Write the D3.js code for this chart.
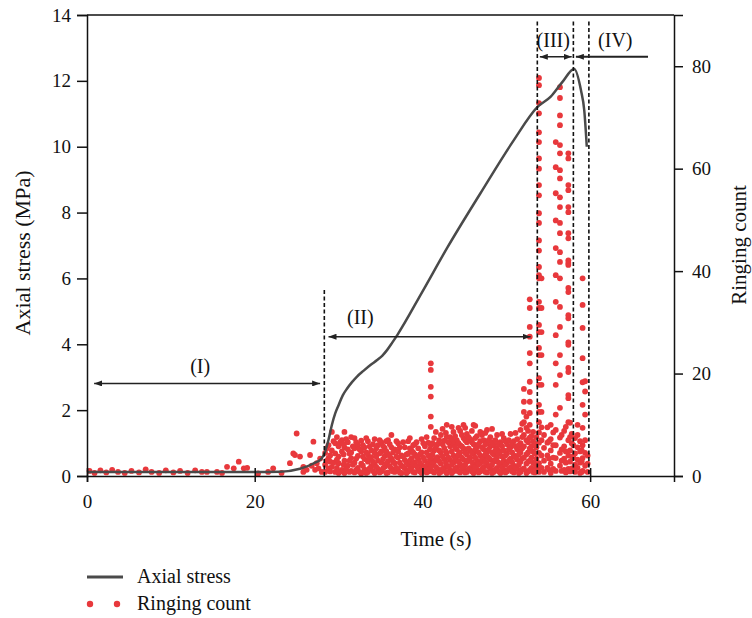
<!DOCTYPE html>
<html>
<head>
<meta charset="utf-8">
<script src="https://cdn.jsdelivr.net/npm/d3@7"></script>
<style>
  body { margin: 0; background: #fff; }
  text { font-family: "Liberation Serif", "Times New Roman", serif; fill: #111; }
</style>
</head>
<body>
<div id="chart"></div>
<script>
// axial stress curve (s, MPa)
let stressTime  = [0, 10, 20, 23, 25.4, 27.0, 28.0, 28.4, 28.8, 29.2, 29.6, 30.0, 30.5, 31.0, 31.6, 32.2, 33.0, 33.8, 34.6, 35.2, 35.8, 36.4, 37.0, 40.0, 43.0, 46.9, 50.9, 53.7, 55.3, 56.7, 58.1, 58.9, 59.3, 59.6];
let stressValue = [0.12, 0.12, 0.12, 0.13, 0.22, 0.38, 0.54, 0.75, 1.1, 1.55, 1.9, 2.15, 2.45, 2.65, 2.85, 3.02, 3.2, 3.37, 3.52, 3.65, 3.83, 4.05, 4.28, 5.6, 6.95, 8.58, 10.2, 11.2, 11.52, 11.97, 12.36, 11.72, 11.1, 10.0];

// ringing count, quiet stage: [time, count]
let quietPoints = [
  [0.3,1],[0.9,0.6],[1.6,1.1],[2.3,0.7],[3.0,1.2],[3.7,0.8],[4.5,0.6],[5.3,1],[6.2,0.7],[7.0,1.3],
  [7.7,0.8],[8.6,0.6],[9.4,1.1],[10.3,0.7],[11.1,1],[12.0,0.6],[12.9,1.1],[13.7,0.8],[14.3,0.8],[15.5,0.8],
  [16.1,0.6],[16.7,1.8],[17.5,1.5],[18.1,2.8],[18.7,1.5],[19.1,1.6],[20.4,0.5],[21.6,0.8],[22.2,1.5],[23.2,0.6],
  [24.2,2.5],[24.6,4.4],[24.8,4.1],[25.0,8.3],[25.4,3.8],[25.8,1.8],[25.8,0.8],[26.2,1.2],[26.6,4.1],[26.8,2],
  [27.0,6.7],[27.2,1.2],[27.4,2.5],[27.6,1.5],[27.8,3.4],[28.0,0.8]
];

// ringing count, stable growth stage: [time, counts]
let cloudCols = [
  [28.4,[0.8,2.2,4.5]], [28.8,[1.5,3.5,6.0]], [29.2,[1.8,5.0,8.6]], [29.6,[0.8,4.4,6.4]],
  [30.0,[2.5,3.8,5.8,0.6]], [30.4,[1.2,4.8,7.0]], [30.7,[0.6,3.0,8.6,5.6]], [31.1,[2.0,5.2,6.6]],
  [31.5,[1.0,3.5,4.6,7.6]], [31.9,[0.7,2.6,5.4,7.4]], [32.3,[1.6,3.9,6.0]], [32.7,[0.5,2.4,4.8,6.9]],
  [33.1,[1.3,3.3,5.6]], [33.5,[0.8,2.8,4.2,6.8]], [33.9,[1.9,3.7,5.0]], [34.3,[0.6,2.2,4.5,7.2]],
  [34.7,[1.4,3.0,6.0]], [35.1,[0.9,2.6,4.8,6.6]], [35.5,[1.8,3.9,5.5]], [35.9,[0.7,2.9,4.3,7.0]],
  [36.3,[1.5,3.4,5.6,8.0]], [36.7,[0.8,2.5,5.2]], [37.1,[1.2,3.6,4.8,6.4]], [37.5,[0.6,2.0,4.0]],
  [37.9,[1.5,3.1,5.6]], [38.3,[0.9,2.3,4.4,6.8]], [38.7,[1.7,3.5,5.0]], [39.1,[0.7,2.7,4.2,6.2]],
  [39.5,[1.3,3.3,5.4]], [39.9,[0.6,2.1,4.6,7.2]], [40.3,[1.6,3.0,5.8]], [40.7,[0.9,2.4,4.0,6.5]],
  [41.4,[0.7,2.8,5.0,7.4]], [41.8,[1.4,3.7,6.2]], [42.2,[0.8,2.4,4.6,8.0]], [42.6,[1.6,3.3,5.5,6.9]],
  [42.9,[0.6,2.0,4.4,7.6,10.0]], [43.3,[1.2,3.1,5.8,7.6]], [43.7,[0.9,2.6,4.0,6.4,8.6]], [44.1,[1.7,3.8,5.2,7.0]],
  [44.5,[0.7,2.3,4.6,6.0,8.8]], [44.9,[1.4,3.2,5.4,7.4,10.0]], [45.3,[0.8,2.8,4.2,6.6,8.2]], [45.7,[1.6,3.6,5.0,7.2]],
  [46.1,[0.6,2.2,4.4,6.2,10.0]], [46.5,[1.3,3.0,5.6,7.8]], [46.9,[0.9,2.6,4.0,6.8,8.6]], [47.3,[1.8,3.5,5.2,7.0]],
  [47.7,[0.7,2.4,4.6,6.4,9.0]], [48.1,[1.4,3.2,5.8,7.6]], [48.5,[0.8,2.8,4.2,6.0]], [48.9,[1.6,3.6,5.4,8.0]],
  [49.3,[0.6,2.2,4.8,6.6]], [49.7,[1.2,3.0,5.0,7.4]], [50.1,[0.9,2.6,4.4,6.2]], [50.5,[1.7,3.4,5.6,8.2]],
  [50.9,[0.7,2.0,4.0,6.8]], [51.3,[1.4,3.2,5.2,7.2]], [51.7,[0.8,2.8,4.6,6.4,9.0]], [52.4,[0.6,2.4,4.2,7.0,9.4,11.6]],
  [53.2,[0.8,2.6,4.8,6.8,8.6]], [53.6,[1.6,3.4,5.6,7.6]]
];

// ringing count, stable growth stage, in-between samples
let cloudCols2 = [
  [28.6,[3.0,5.4]], [29.0,[0.9,2.8,4.0]], [29.4,[2.6,6.8]], [29.8,[1.6,3.2,7.6]],
  [30.2,[0.9,6.6]], [30.6,[2.2,4.2,6.2]], [30.9,[1.4,7.2]], [31.3,[0.8,3.0,4.4]],
  [31.7,[2.2,5.8]], [32.1,[1.2,3.4,6.6]], [32.5,[0.8,5.2]], [32.9,[2.0,3.8,6.0]],
  [33.3,[0.6,4.6,7.4]], [33.7,[1.5,3.4,5.8]], [34.1,[1.0,2.8,6.2]], [34.5,[1.8,3.8,5.4]],
  [34.9,[0.7,4.4,7.0]], [35.3,[1.5,3.3,5.9]], [35.7,[0.6,2.4,4.8,6.8]], [36.1,[1.9,3.9,6.2]],
  [36.5,[0.9,2.8,4.6]], [36.9,[1.6,3.8,6.8]], [37.3,[0.7,2.6,5.6]], [37.7,[1.8,3.8,6.6]],
  [38.1,[0.6,2.6,4.2]], [38.5,[1.4,3.0,5.4,7.4]], [38.9,[0.8,2.4,4.6,6.0]], [39.3,[1.9,3.8,6.6]],
  [39.7,[0.9,2.6,4.2]], [40.1,[1.3,3.6,6.4]], [40.5,[0.7,2.0,4.6,7.6]], [40.9,[1.4,3.2,5.2]],
  [41.2,[0.9,2.4,4.2,6.4]], [41.6,[1.8,3.4,5.6,8.6]], [42.0,[0.6,2.9,5.0,7.0]], [42.4,[1.4,3.8,6.2,9.2]],
  [42.8,[0.8,2.6,4.8,8.4]], [43.1,[1.8,3.6,6.6]], [43.5,[0.6,2.2,4.8,7.2,9.6]], [43.9,[1.4,3.4,5.6,7.8]],
  [44.3,[0.9,2.8,4.2,6.4,9.4]], [44.7,[1.6,3.6,5.8,8.0]], [45.1,[0.7,2.2,4.6,7.0,9.4]], [45.5,[1.4,3.2,5.4,7.6]],
  [45.9,[0.9,2.7,4.6,6.6,8.8]], [46.3,[1.7,3.6,5.2,7.4,9.8]], [46.7,[0.7,2.3,4.6,6.2]], [47.1,[1.4,3.2,5.6,8.0]],
  [47.5,[0.8,2.8,4.2,6.2,8.4]], [47.9,[1.8,3.6,5.2,7.0]], [48.3,[0.6,2.2,4.6,6.6,9.2]], [48.7,[1.3,3.2,5.0,7.0]],
  [49.1,[0.9,2.6,4.4,6.2]], [49.5,[1.7,3.8,5.8,8.2]], [49.9,[0.7,2.2,4.0,6.8]], [50.3,[1.4,3.0,5.2,7.0]],
  [50.7,[0.9,2.7,4.6,6.4]], [51.1,[1.6,3.6,5.8,8.4]], [51.5,[0.6,2.2,4.2,6.0]], [51.9,[1.3,3.4,5.4,7.6,10.2]],
  [52.6,[0.9,2.8,4.6,6.6,8.8]], [53.0,[1.6,3.6,5.8,7.8]], [53.4,[0.7,2.4,4.4,6.2]]
];

// ringing count, bursts (tall columns)
let burstCols = [
  [41.0,[1.8,3.6,6.0,9.6,11.6,15.5,17.4,20.7,22.0]],
  [52.1,[1.5,3.6,5.8,8.0,10.5,12.5,14.5,17.0]],
  [52.8,[1.2,3.0,5.4,7.5,10.0,12.3,14.5,16.4,18.4,22.0,24.0,27.2,29.1,32.8,34.5]],
  [53.9,[0.8,2.5,4.5,6.5,8.5,10.5,12.5,13.9,17.8,19.1,23.6,25.0,28.1,29.5,32.8,34.0,38.6,39.2,40.8,44.0,46.0,49.4,51.3,54.8,56.8,60.0,62.0,65.2,67.1,70.8,72.8,76.3,77.7]],
  [54.2,[1.6,4.0,7.0,9.5,12.5,17.8,23.6,28.1,32.8,38.6]],
  [55.9,[1.0,3.5,6.0,9.0,12.0,17.8,22.0,27.5,34.0,39.2,44.5,49.9,55.2,60.3,65.2]],
  [56.4,[2.0,4.5,7.5,13.3,19.7,23.6,29.1,33.0,38.6,41.8,43.7,47.4,49.4,52.5,54.4,58.1,59.7,63.0,64.6,68.5,70.4,73.8,75.9]],
  [57.4,[1.4,4.0,7.0,10.5,15.2,15.8,20.3,21.1,25.6,26.1,30.8,31.4,35.9,36.7,41.2,41.6,42.1,46.4,47.4,51.5,52.5,55.8,56.8,62.0,63.0]],
  [59.1,[1.0,3.5,6.0,9.4,13.9,18.3,23.0,28.9,33.4,38.6]],
  [59.4,[2.0,4.5,7.0,12.0,16.5,18.5]]
];

// ringing count, after the bursts
let lateCols = [
  [54.5,[0.8,3.0,5.5,8.0]], [54.9,[1.6,4.0,6.5,9.5]], [55.1,[1.2,3.4,6.8]], [55.3,[0.6,2.4,5.0,7.2,10.0]],
  [55.6,[1.4,3.6,6.0,8.5]], [56.6,[1.0,3.0,5.2,8.0]], [56.9,[1.2,3.4,5.8,8.8]], [57.1,[0.7,2.6,4.8,9.6]],
  [57.6,[0.9,2.8,5.0,7.6,10.4]], [57.8,[1.5,3.8,6.4,8.2]], [58.0,[1.4,3.6,6.0]], [58.2,[0.8,2.2,4.4,7.4]],
  [58.5,[1.6,3.2,5.6,8.0,10.0]], [58.8,[0.6,2.6,4.8,6.8]], [59.0,[0.8,2.8,5.0]], [59.7,[0.8,2.4,4.0]]
];

// stage boundaries and stage arrows
let stageTime = [28.3, 53.7, 58.0, 59.85];
let stageTop  = [5.65, 13.8, 13.8, 13.8];
let phaseLabels = ["(I)", "(II)", "(III)", "(IV)"];
let phaseFrom  = [0.85, 28.8, 54.0, 58.3];
let phaseTo    = [27.8, 52.9, 57.8, 66.9];
let phaseLevel = [2.81, 4.23, 12.73, 12.73];
let phaseLabelTime  = [13.5, 32.6, 55.6, 63.0];
let phaseLabelLevel = [3.13, 4.62, 13.03, 13.03];

let xTicks = [0, 20, 40, 60];
let leftTicks = [0, 2, 4, 6, 8, 10, 12, 14];
let rightTicks = [0, 20, 40, 60, 80];

let width = 752, height = 618;
let plotLeft = 87, plotRight = 674, plotTop = 15, plotBottom = 476;
let red = "#e8383c";

let svg = d3.select("#chart").append("svg")
  .attr("width", width)
  .attr("height", height);

let x = d3.scaleLinear().domain([0, 70]).range([plotLeft, plotRight]);
let yL = d3.scaleLinear().domain([0, 14]).range([plotBottom, plotTop]);
let yR = d3.scaleLinear().domain([0, 90]).range([plotBottom, plotTop]);

// flatten ringing data into points
let ringPoints = quietPoints.slice();
[cloudCols, cloudCols2, burstCols, lateCols].forEach(cols => {
  cols.forEach(c => c[1].forEach(v => ringPoints.push([c[0], v])));
});

svg.append("g").selectAll("circle")
  .data(ringPoints)
  .enter().append("circle")
    .attr("cx", d => x(d[0]))
    .attr("cy", d => yR(d[1]))
    .attr("r", 2.9)
    .attr("fill", red);

// stress line
let stress = stressTime.map((t, i) => [t, stressValue[i]]);
let line = d3.line()
  .x(d => x(d[0]))
  .y(d => yL(d[1]))
  .curve(d3.curveMonotoneX);

svg.append("path")
  .datum(stress)
  .attr("d", line)
  .attr("fill", "none")
  .attr("stroke", "#4a4a4a")
  .attr("stroke-width", 2.5);

// stage boundaries
svg.append("g").selectAll("line")
  .data(stageTime)
  .enter().append("line")
    .attr("x1", d => x(d)).attr("x2", d => x(d))
    .attr("y1", (d, i) => yL(stageTop[i]))
    .attr("y2", plotBottom)
    .attr("stroke", "#111")
    .attr("stroke-width", 1.6)
    .attr("stroke-dasharray", "4,2.5");

// arrowheads
let defs = svg.append("defs");
defs.append("marker")
  .attr("id", "head")
  .attr("viewBox", "0 0 8 6")
  .attr("refX", 8).attr("refY", 3)
  .attr("markerWidth", 8).attr("markerHeight", 6)
  .attr("markerUnits", "userSpaceOnUse")
  .attr("orient", "auto-start-reverse")
  .append("path")
    .attr("d", "M0,0 L8,3 L0,6 Z")
    .attr("fill", "#222");

phaseLabels.forEach((lab, i) => {
  let a = svg.append("line")
    .attr("x1", x(phaseFrom[i])).attr("x2", x(phaseTo[i]))
    .attr("y1", yL(phaseLevel[i])).attr("y2", yL(phaseLevel[i]))
    .attr("stroke", "#222")
    .attr("stroke-width", i == 3 ? 2 : 1.4)
    .attr("marker-start", "url(#head)");
  if (i != 3) a.attr("marker-end", "url(#head)");

  svg.append("text")
    .attr("x", x(phaseLabelTime[i]))
    .attr("y", yL(phaseLabelLevel[i]))
    .attr("text-anchor", "middle")
    .style("font-size", "20px")
    .text(lab);
});

// axes
let xAxis = svg.append("g")
  .attr("transform", "translate(0," + plotBottom + ")")
  .call(d3.axisBottom(x).tickValues(xTicks).tickSizeOuter(0).tickSize(6).tickPadding(13));
xAxis.selectAll(".tick line").attr("y1", -8);

let leftAxis = svg.append("g")
  .attr("transform", "translate(" + plotLeft + ",0)")
  .call(d3.axisLeft(yL).tickValues(leftTicks).tickSizeOuter(0).tickSize(10).tickPadding(6));

let rightAxis = svg.append("g")
  .attr("transform", "translate(" + plotRight + ",0)")
  .call(d3.axisRight(yR).tickValues(rightTicks).tickSizeOuter(0).tickSize(9).tickPadding(9));

[xAxis, leftAxis, rightAxis].forEach(g => {
  g.selectAll("path, line").attr("stroke", "#111").attr("stroke-width", 1.5);
  g.selectAll("text")
    .style("font-size", "19px")
    .style("font-family", "'Liberation Serif', 'Times New Roman', serif")
    .attr("fill", "#111");
});

// top frame
svg.append("line")
  .attr("x1", plotLeft).attr("x2", plotRight)
  .attr("y1", plotTop).attr("y2", plotTop)
  .attr("stroke", "#111").attr("stroke-width", 1.5);

// axis titles
svg.append("text")
  .attr("x", 436).attr("y", 546)
  .attr("text-anchor", "middle")
  .style("font-size", "21px")
  .text("Time (s)");

svg.append("text")
  .attr("transform", "translate(30,253) rotate(-90)")
  .attr("text-anchor", "middle")
  .style("font-size", "22px")
  .text("Axial stress (MPa)");

svg.append("text")
  .attr("transform", "translate(746,245) rotate(-90)")
  .attr("text-anchor", "middle")
  .style("font-size", "21px")
  .text("Ringing count");

// legend
let legend = svg.append("g");
legend.append("line")
  .attr("x1", 87).attr("x2", 123)
  .attr("y1", 577).attr("y2", 577)
  .attr("stroke", "#4a4a4a").attr("stroke-width", 3);
legend.append("text")
  .attr("x", 137).attr("y", 583)
  .style("font-size", "20px")
  .text("Axial stress");
legend.selectAll("circle")
  .data([90, 117])
  .enter().append("circle")
    .attr("cx", d => d).attr("cy", 604)
    .attr("r", 3.2)
    .attr("fill", red);
legend.append("text")
  .attr("x", 137).attr("y", 610)
  .style("font-size", "20px")
  .text("Ringing count");
</script>
</body>
</html>
